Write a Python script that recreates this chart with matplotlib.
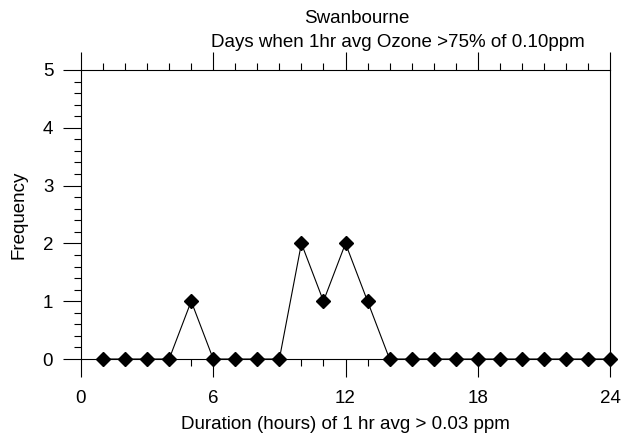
import matplotlib
matplotlib.use("Agg")
import matplotlib.pyplot as plt
from matplotlib.ticker import MultipleLocator

plt.rcParams["font.family"] = ["Liberation Sans", "DejaVu Sans"]

# 数据：持续时长（小时）与出现天数
hours = list(range(1, 25))
freq = [0, 0, 0, 0, 1, 0, 0, 0, 0, 2, 1, 2, 1, 0, 0, 0, 0, 0, 0, 0, 0, 0, 0, 0]

title_site = "Swanbourne"
title_desc = "Days when 1hr avg Ozone >75% of 0.10ppm"
x_label = "Duration (hours) of 1 hr avg > 0.03 ppm"
y_label = "Frequency"

fig = plt.figure(figsize=(6.32, 4.41), dpi=100)
ax = fig.add_axes([81 / 632, 1 - 359 / 441, (610 - 81) / 632, (359 - 70) / 441])

ax.plot(hours, freq, color="black", linewidth=0.8, marker="D", markersize=7,
        markerfacecolor="black", markeredgecolor="black", clip_on=False, zorder=3)

ax.set_xlim(0, 24)
ax.set_ylim(0, 5)
ax.xaxis.set_major_locator(MultipleLocator(6))
ax.xaxis.set_minor_locator(MultipleLocator(1))
ax.yaxis.set_major_locator(MultipleLocator(1))
ax.yaxis.set_minor_locator(MultipleLocator(0.2))

ax.tick_params(which="both", direction="out", top=True, right=False, colors="black",
               labelsize=13.5, width=0.8)
ax.tick_params(which="major", length=13)
ax.tick_params(which="minor", length=5)
ax.tick_params(axis="x", which="major", pad=9)
ax.tick_params(axis="y", which="major", pad=7)
ax.tick_params(axis="x", labeltop=False)

for sp in ax.spines.values():
    sp.set_linewidth(0.8)
    sp.set_color("black")

ax.set_xlabel(x_label, fontsize=13.5, labelpad=7)
ax.set_ylabel(y_label, fontsize=13.5, labelpad=11)

# 标题两行，位置不居中于坐标轴
fig.text(357 / 632, 1 - 23 / 441, title_site, ha="center", va="baseline", fontsize=13.5)
fig.text(398 / 632, 1 - 47 / 441, title_desc, ha="center", va="baseline", fontsize=13.5)

fig.savefig("out.png", dpi=100)
plt.close(fig)
